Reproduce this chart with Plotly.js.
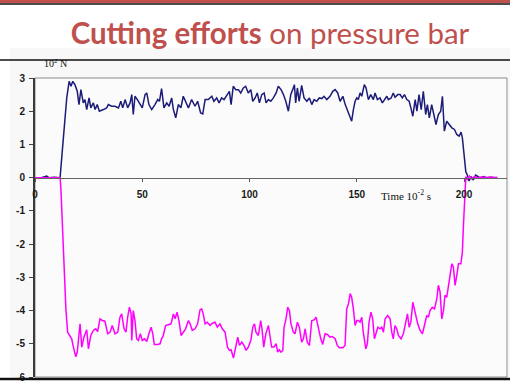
<!DOCTYPE html>
<html>
<head>
<meta charset="utf-8">
<script src="https://cdn.plot.ly/plotly-3.0.1.min.js"></script>
<style>html,body{margin:0;padding:0;background:#fff;}#chart{width:510px;height:382px;}</style>
</head>
<body>
<div id="chart"></div>
<script>
// ---- data ----
var xTickVals = [0, 50, 100, 150, 200];
var xTickText = ['0', '50', '100', '150', '200'];
var yTickVals = [-6, -5, -4, -3, -2, -1, 0, 1, 2, 3];
var yTickText = ['-6', '-5', '-4', '-3', '-2', '-1', '0', '1', '2', '3'];

var blueT = [0,3,5.4,6.5,9,11.7,12.7,14.0,14.8,15.9,16.8,17.6,18.6,19.7,20.5,21.4,22.5,23.3,24.1,25.2,26.0,27.2,28.0,29.0,30.0,31.9,33.4,34.2,35.7,37.3,38.9,40.0,40.9,42.0,43.2,44.3,45.1,45.8,46.6,47.7,49.0,50.0,51.3,52.1,53.1,54.4,55.9,57.2,58.0,59.0,60.1,61.4,62.5,63.7,64.5,65.6,66.8,68.0,69.1,70.2,71.5,73.0,74.6,75.8,77.2,78.2,79.3,80.8,82.4,83.4,84.7,85.8,87.0,88.1,89.4,90.6,91.4,92.4,93.6,94.8,95.9,97.1,98.2,99.4,100.6,101.5,102.6,103.6,104.6,105.7,106.8,107.7,108.8,109.9,111.1,112.4,113.4,114.7,115.8,116.9,118.1,119.2,120.1,120.9,121.5,122.3,123.1,124.3,125.4,126.7,127.9,129.0,130.1,131.3,132.5,133.7,134.7,136.0,137.5,138.8,139.9,141.1,142.2,143.5,144.6,145.8,146.9,147.6,148.4,149.2,150.0,150.7,151.5,152.3,153.5,154.3,155.4,156.5,157.7,158.5,159.6,160.8,161.9,162.8,164.0,164.7,166.0,167.0,167.8,169.1,170.2,171.2,172.2,173.3,174.4,175.2,176.1,177.2,178.0,179.0,180.0,181.0,182.1,182.9,183.8,184.9,186.0,186.9,188.0,189.1,189.9,190.8,191.9,193.0,194.3,195.5,196.6,197.7,198.6,199.2,200.0,200.8,201.5,202.3,203.3,204.3,205.4,206.7,207.9,209.0,210.6,212.8,215.1];
var blueV = [0,0,0.05,0,0.01,0,0.79,1.9,2.4,2.9,2.75,2.9,2.8,2.6,2.2,2.65,2.25,2.35,2.05,2.4,2.1,2.25,2.05,2.2,2.0,2.05,2.1,2.2,2.15,2.15,2.1,2.3,2.1,2.35,2.1,2.25,2.5,1.9,2.45,2.35,2.2,2.1,2.5,2.55,2.2,2.05,2.2,2.35,2.3,2.68,2.1,2.25,2.15,2.4,2.05,1.8,2.2,2.1,2.45,2.3,2.1,2.35,2.15,2.3,1.95,1.92,2.35,2.35,2.45,2.3,2.4,2.25,2.4,2.35,2.5,2.6,2.2,2.75,2.65,2.65,2.55,2.7,2.75,2.55,2.65,2.3,2.4,2.55,2.25,2.5,2.55,2.25,2.35,2.3,2.4,2.55,2.75,2.65,2.5,2.3,2.0,2.5,2.65,2.8,2.25,2.7,2.3,2.78,2.4,2.3,2.4,2.2,2.35,2.3,2.4,2.38,2.45,2.35,2.45,2.6,2.65,2.55,2.3,2.45,2.2,2.0,1.8,1.7,2.05,2.3,2.4,2.35,2.55,2.45,2.8,2.7,2.35,2.5,2.35,2.55,2.35,2.4,2.25,2.35,2.45,2.35,2.4,2.55,2.42,2.5,2.5,2.4,2.5,2.35,2.3,2.1,1.85,2.35,2.0,2.5,2.05,2.6,1.9,2.2,1.8,2.2,1.8,1.6,1.9,2.0,2.45,1.4,1.7,1.6,1.5,1.45,1.3,1.25,1.37,1.2,0.58,0.18,0.08,-0.1,0.03,-0.07,0.08,0.03,-0.02,0.03,0,0.01,0];

var magT = [0,4,8,11.7,12.1,12.7,13.2,13.7,14.4,15.2,16.4,17.1,17.9,19.0,19.7,20.5,21.0,21.8,22.8,24.1,24.9,26.0,27.2,28.3,29.2,30.3,31.4,32.6,33.9,35.0,36.0,37.3,38.6,39.6,40.4,41.5,42.4,43.2,44.0,44.8,45.1,45.8,46.6,47.4,48.2,49.1,50.0,51.0,52.1,53.1,54.1,54.9,55.6,57.2,58.3,59.0,59.8,60.9,62.1,63.4,64.5,65.3,66.2,67.1,68.1,69.1,70.2,71.5,72.3,73.3,74.6,75.8,76.9,77.7,78.4,79.3,80.3,81.6,82.7,83.9,85.0,86.2,87.3,88.6,89.7,90.6,91.4,92.5,93.6,94.5,95.3,96.4,97.4,98.4,99.4,100.6,101.5,102.3,103.0,104.1,105.2,105.8,106.6,107.6,108.8,109.6,110.3,111.4,112.4,113.1,113.9,114.7,115.5,116.1,117.0,117.8,118.6,119.3,120.4,121.2,122.3,123.2,124.3,125.1,125.9,126.9,127.9,129.0,130.1,131.0,132.1,133.2,134.1,135.2,136.3,137.5,138.6,139.9,140.9,141.9,143.5,144.5,145.3,146.1,146.9,147.6,148.4,149.2,150.0,150.7,151.5,152.3,153.0,154.2,154.9,155.7,156.6,157.4,158.2,159.0,159.8,160.8,161.6,162.4,163.2,164.4,165.5,166.3,167.0,167.8,168.6,169.4,170.6,171.7,172.8,173.6,174.4,175.2,176.1,176.7,177.6,178.4,179.5,180.6,181.5,182.6,183.4,184.1,185.2,186.2,187.3,188.0,188.8,189.6,190.4,191.1,191.9,192.7,193.5,194.3,195.0,195.8,196.6,197.4,198.5,199.2,199.7,200.2,200.8,201.5,202.5,203.5,205,206.5,208,210,212,214,215.5];
var magV = [0,0,0.01,0,-0.37,-1.38,-2.39,-3.2,-3.95,-4.65,-4.8,-4.85,-5.1,-5.39,-5.25,-4.55,-4.4,-5.1,-4.8,-4.58,-5.15,-4.75,-4.6,-4.55,-4.63,-4.25,-4.3,-4.32,-4.7,-4.65,-4.45,-4.7,-4.65,-4.2,-4.1,-4.55,-4.65,-4.2,-3.9,-4.1,-4.9,-4.0,-4.3,-4.85,-4.9,-4.7,-4.9,-4.85,-4.93,-4.7,-4.5,-4.7,-5.02,-5.02,-5.0,-4.85,-4.75,-4.45,-4.42,-4.4,-4.1,-4.25,-4.05,-4.3,-4.75,-4.65,-4.55,-4.3,-4.4,-4.6,-4.55,-4.4,-3.98,-3.95,-4.1,-4.4,-4.35,-4.45,-4.38,-4.35,-4.5,-4.4,-4.55,-4.65,-5.1,-5.2,-5.18,-5.43,-5.05,-4.8,-5.05,-4.95,-5.05,-5.2,-5.1,-4.9,-4.5,-4.4,-4.65,-4.75,-4.3,-4.55,-5.1,-4.7,-4.45,-4.8,-5.1,-5.1,-5.0,-5.25,-5.18,-5.25,-5.2,-4.5,-4.25,-3.9,-4.0,-4.4,-4.65,-4.7,-4.35,-4.5,-4.95,-4.85,-4.55,-4.95,-5.05,-4.3,-4.28,-4.2,-4.55,-4.85,-5.02,-4.7,-4.72,-4.8,-4.78,-4.85,-5.05,-5.12,-5.12,-5.05,-3.95,-3.8,-3.49,-3.6,-3.95,-4.45,-4.3,-4.3,-4.35,-4.2,-4.65,-5.15,-5.0,-4.35,-4.05,-4.25,-4.85,-4.65,-4.5,-4.55,-4.5,-4.65,-4.25,-4.15,-4.25,-4.65,-4.85,-4.45,-4.55,-4.75,-4.85,-4.7,-4.4,-4.1,-4.5,-4.35,-3.75,-3.95,-4.25,-4.4,-4.6,-4.7,-4.45,-4.15,-4.2,-4.0,-3.9,-3.95,-3.64,-3.24,-3.44,-4.25,-4.0,-3.54,-3.6,-3.24,-2.94,-2.59,-2.69,-3.24,-2.94,-2.59,-2.59,-2.24,-1.43,-0.52,0.03,-0.05,0.05,-0.03,0.04,-0.02,0.03,0,0.02,0,0.01];

var titleBold = 'Cutting efforts';
var titleRest = ' on pressure bar';
var yUnitLabel = '10<sup>2</sup> N';
var xUnitLabel = 'Time 10<sup>-2</sup> s';

// ---- layout geometry helpers (pixel -> paper) ----
var W = 510, H = 382;
var M = {l: 35, r: 3, t: 78, b: 5};
var PW = W - M.l - M.r, PH = H - M.t - M.b;
function xp(px) { return (px - M.l) / PW; }
function yp(py) { return (H - M.b - py) / PH; }

var tickFont = {family: 'Liberation Sans, Arial, sans-serif', size: 10, color: '#1a1a1a', weight: 'bold'};
var zeroPos = 6 / 9;

var traces = [
  {x: blueT, y: blueV, type: 'scatter', mode: 'lines', line: {color: '#1c1c78', width: 1.5}, hoverinfo: 'skip'},
  {x: magT, y: magV, type: 'scatter', mode: 'lines', line: {color: '#ff00ff', width: 1.5}, hoverinfo: 'skip'}
];

var layout = {
  width: W, height: H,
  margin: M,
  showlegend: false,
  paper_bgcolor: '#ffffff',
  plot_bgcolor: 'rgba(0,0,0,0)',
  title: {
    text: '<b>' + titleBold + '</b>' + titleRest,
    font: {family: 'Lato, Noto Sans, sans-serif', size: 29.5, color: '#c0504d'},
    x: 270 / W, xref: 'container', xanchor: 'center',
    y: 1 - 34 / H, yref: 'container', yanchor: 'middle'
  },
  xaxis: {
    range: [0, 220], anchor: 'free', position: zeroPos,
    tickvals: xTickVals, ticktext: xTickText,
    ticks: 'outside', ticklen: 3, tickwidth: 1, tickcolor: '#555',
    showline: true, linecolor: '#666', linewidth: 1.3,
    showgrid: false, zeroline: false,
    tickfont: tickFont, ticklabelstandoff: 4
  },
  xaxis2: {
    range: [0, 220], overlaying: 'x', anchor: 'free', position: zeroPos,
    tickvals: xTickVals, ticks: 'inside', ticklen: 3, tickwidth: 1, tickcolor: '#555',
    showticklabels: false, showline: false, showgrid: false, zeroline: false
  },
  yaxis: {
    range: [-6, 3],
    tickvals: yTickVals, ticktext: yTickText,
    ticks: 'outside', ticklen: 4, tickwidth: 1, tickcolor: '#444',
    showline: true, linecolor: '#3a3a3a', linewidth: 2,
    showgrid: false, zeroline: false,
    tickfont: tickFont, ticklabelstandoff: 2, ticklabeloverflow: 'allow'
  },
  shapes: [
    {type: 'rect', xref: 'paper', yref: 'paper', layer: 'below',
     x0: xp(10), x1: xp(512), y0: yp(379), y1: yp(48),
     fillcolor: '#f8f8f8', line: {width: 0}},
    {type: 'rect', xref: 'paper', yref: 'paper', layer: 'below',
     x0: 0, x1: 1, y0: 0, y1: 1,
     fillcolor: '#fbfbfb', line: {color: '#8c8c8c', width: 1}},
    {type: 'rect', xref: 'paper', yref: 'paper', layer: 'above',
     x0: xp(-2), x1: xp(512), y0: yp(3), y1: yp(-2),
     fillcolor: '#c0504d', line: {width: 0}},
    {type: 'line', xref: 'paper', yref: 'paper', layer: 'above',
     x0: xp(-2), x1: xp(512), y0: yp(4), y1: yp(4),
     line: {color: '#111', width: 1.5}},
    {type: 'line', xref: 'paper', yref: 'paper', layer: 'above',
     x0: xp(-2), x1: xp(512), y0: yp(60), y1: yp(60),
     line: {color: '#111', width: 1.5}},
    {type: 'line', xref: 'paper', yref: 'paper', layer: 'above',
     x0: xp(-2), x1: xp(512), y0: yp(379), y1: yp(379),
     line: {color: '#111', width: 2.5}}
  ],
  annotations: [
    {text: yUnitLabel, xref: 'paper', yref: 'paper', x: xp(55), y: yp(63),
     xanchor: 'center', yanchor: 'middle', showarrow: false,
     font: {family: 'Liberation Serif, Times New Roman, serif', size: 10, color: '#111'}},
    {text: xUnitLabel, xref: 'paper', yref: 'paper', x: xp(406), y: yp(195),
     xanchor: 'center', yanchor: 'middle', showarrow: false,
     font: {family: 'Liberation Serif, Times New Roman, serif', size: 11, color: '#111'}}
  ]
};

Plotly.newPlot('chart', traces, layout, {staticPlot: true, displayModeBar: false});
</script>
</body>
</html>
